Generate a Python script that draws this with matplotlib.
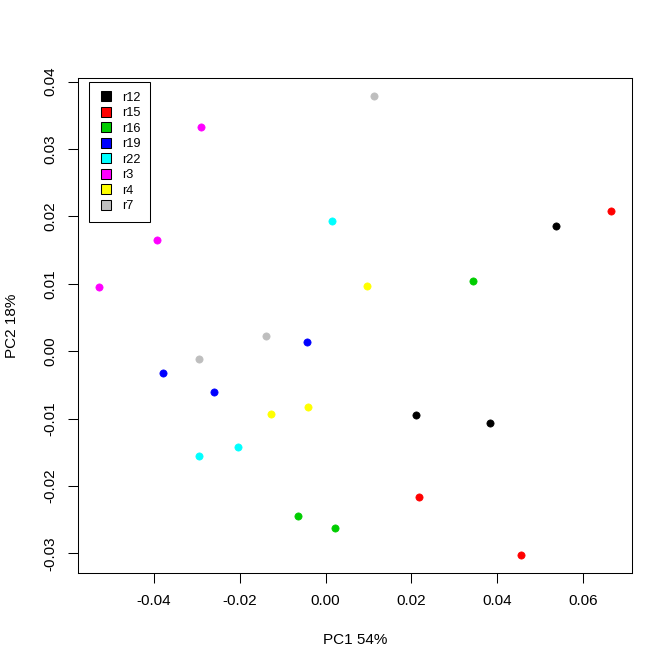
import matplotlib
matplotlib.use("Agg")
import matplotlib.pyplot as plt
from matplotlib.lines import Line2D

plt.rcParams['font.family'] = ['Liberation Sans', 'DejaVu Sans']
plt.rcParams['axes.unicode_minus'] = False

groups = ["r12", "r15", "r16", "r19", "r22", "r3", "r4", "r7"]
colors = ["#000000", "#FF0000", "#00CD00", "#0000FF", "#00FFFF", "#FF00FF", "#FFFF00", "#BEBEBE"]

pc1 = {
    "r12": [0.0537, 0.0211, 0.0383],
    "r15": [0.0665, 0.0218, 0.0455],
    "r16": [0.0344, -0.0064, 0.0022],
    "r19": [-0.0043, -0.0379, -0.0259],
    "r22": [0.0015, -0.0204, -0.0295],
    "r3":  [-0.0291, -0.0393, -0.0528],
    "r4":  [0.0097, -0.0128, -0.0042],
    "r7":  [0.0113, -0.0139, -0.0295],
}
pc2 = {
    "r12": [0.0185, -0.0095, -0.0106],
    "r15": [0.0208, -0.0217, -0.0302],
    "r16": [0.0104, -0.0244, -0.0262],
    "r19": [0.0013, -0.0033, -0.0060],
    "r22": [0.0193, -0.0143, -0.0156],
    "r3":  [0.0333, 0.0165, 0.0095],
    "r4":  [0.0097, -0.0094, -0.0083],
    "r7":  [0.0378, 0.0022, -0.0012],
}

xticks = [-0.04, -0.02, 0.00, 0.02, 0.04, 0.06]
yticks = [-0.03, -0.02, -0.01, 0.00, 0.01, 0.02, 0.03, 0.04]

W, H = 672, 671
fig = plt.figure(figsize=(W / 100, H / 100), dpi=100)
ax = fig.add_axes([78.3 / W, 1 - 573 / H, (631.7 - 78.3) / W, (573 - 78) / H])

for g, c in zip(groups, colors):
    ax.plot(pc1[g], pc2[g], linestyle='none', marker='o', markersize=5.2,
            markerfacecolor=c, markeredgecolor=c, markeredgewidth=0.5)

ax.margins(0.04)
ax.set_xticks(xticks)
ax.set_xticklabels([f"{v:.2f}" for v in xticks])
ax.set_yticks(yticks)
ax.set_yticklabels([f"{v:.2f}" for v in yticks], rotation=90, va='center')

fs = 11
ax.tick_params(axis='both', direction='out', length=6.9, width=0.75, labelsize=fs, color='black')
ax.tick_params(axis='x', pad=8)
ax.tick_params(axis='y', pad=8)
for s in ax.spines.values():
    s.set_linewidth(0.75)
    s.set_color('black')

ax.set_xlabel("PC1 54%", fontsize=fs, labelpad=0)
ax.set_ylabel("PC2 18%", fontsize=fs, labelpad=0)
ax.xaxis.set_label_coords(0.5, -(640.3 - 573) / (573 - 78), transform=ax.transAxes)
ax.xaxis.label.set_va('center')
ax.yaxis.set_label_coords(-(78.3 - 12.5) / (631.7 - 78.3), 0.5, transform=ax.transAxes)
ax.yaxis.label.set_va('center')

handles = [Line2D([], [], linestyle='none', marker='s', markersize=7.2,
                  markerfacecolor=c, markeredgecolor='black', markeredgewidth=0.75)
           for c in colors]
leg = ax.legend(handles, groups, loc='upper left',
                bbox_to_anchor=(89.3 / W, 1 - 82.3 / H), bbox_transform=fig.transFigure,
                borderaxespad=0, fontsize=9.2, frameon=True, fancybox=False,
                edgecolor='black', framealpha=1, handlelength=1.1, handletextpad=0.68,
                borderpad=0.75, labelspacing=0.27, handleheight=0.7)
leg.get_frame().set_linewidth(0.75)

fig.savefig("out.png", dpi=100)
